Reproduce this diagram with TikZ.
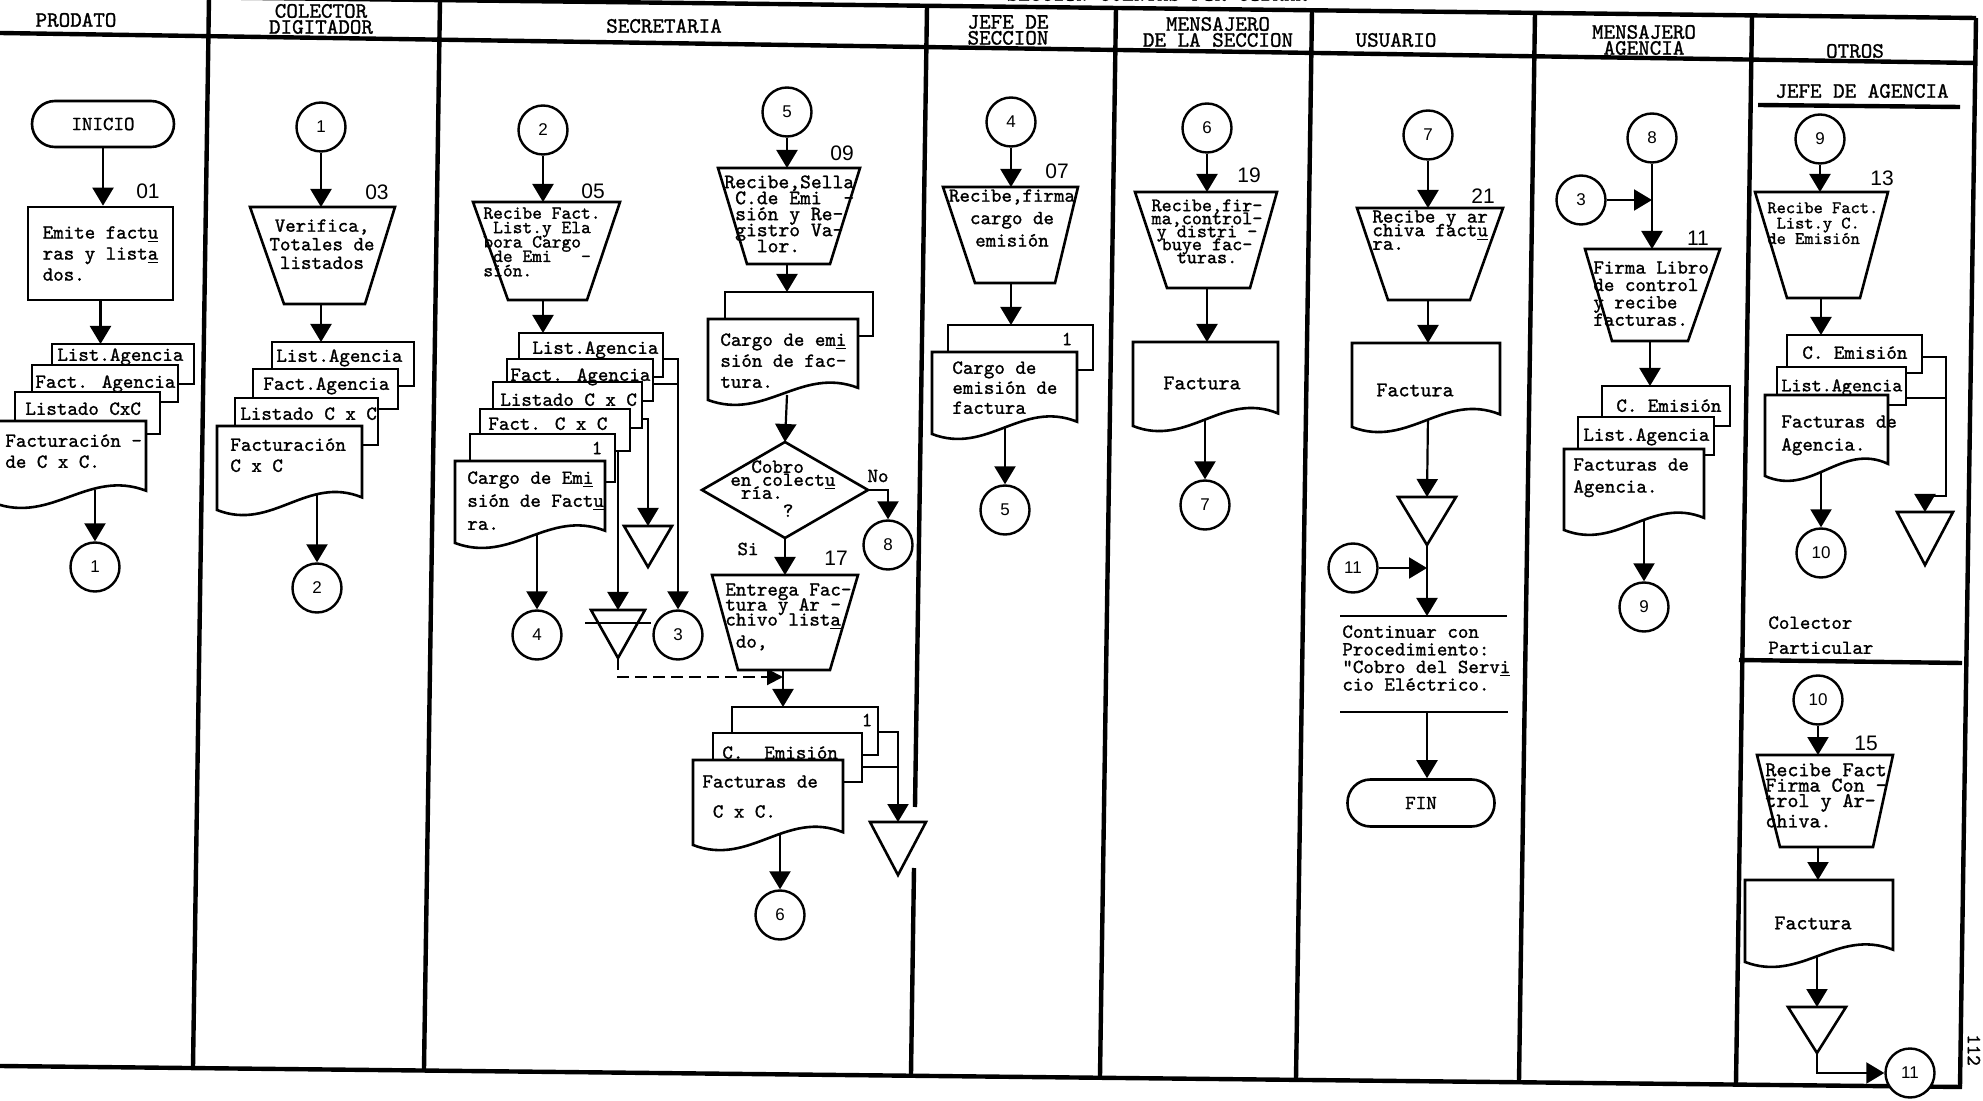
\documentclass[tikz,border=0pt]{standalone}
\usepackage{fontspec}
\newfontfamily\numfont{Liberation Sans}
\newfontfamily\twf{lmmono10-regular.otf}[FakeBold=1.2]
\usetikzlibrary{arrows.meta,backgrounds}

% typewriter text with a free line pitch
\newcommand\tf[2]{\twf\fontsize{#1}{#2}\selectfont\lineskiplimit=-50pt\lineskip=0pt\relax}
% back sheet of a document stack
\newcommand\sheetbox[4]{\path[shp,fill=white] (#1,#2) rectangle (#3,#4);}
% document with a wavy lower edge: x0, y0, x1, y of the lower left corner
\newcommand\docwave[4]{\path[shp,fill=white] (#1,#2) -- (#3,#2) -- (#3,{#4-0.15*(#4-(#2))})
  .. controls ({#1+0.62*(#3-(#1))},{#4-0.42*(#4-(#2))}) and ({#1+0.38*(#3-(#1))},{#4+0.26*(#4-(#2))}) .. (#1,#4) -- cycle;}
% manual operation: top y, top x0, top x1, bottom y, bottom x0, bottom x1
\newcommand\manop[6]{\path[shp,fill=white] (#2,#1) -- (#3,#1) -- (#6,#4) -- (#5,#4) -- cycle;}
% file symbol: top y, x0, x1, apex y
\newcommand\filetri[4]{\path[shp,fill=white] (#2,#1) -- (#3,#1) -- ({(#2+#3)/2},#4) -- cycle;}

\begin{document}
\begin{tikzpicture}[x=0.5pt,y=-0.5pt,
  shp/.style={draw=black,line width=1.3pt},
  lnk/.style={draw=black,line width=1.1pt},
  arr/.style={lnk,-{Triangle[width=10.5pt,length=9pt]}},
  lane/.style={draw=black,line width=2.2pt},
  conn/.style={circle,draw=black,line width=1.2pt,fill=white,minimum size=24.5pt,inner sep=0pt,font=\numfont\fontsize{8.5}{10}\selectfont},
  term/.style={draw=black,line width=1.3pt,fill=white,rounded corners=11.5pt,inner sep=0pt,font=\tf{10}{12}},
  stepno/.style={inner sep=0pt,font=\numfont\fontsize{10.5}{12}\selectfont},
  hd/.style={inner sep=0pt,align=center,font=\tf{11}{8}},
  tx/.style={inner sep=0pt,align=left,anchor=north west},
  txc/.style={inner sep=0pt,align=center,anchor=north},
  lbl/.style={inner sep=0pt,font=\tf{10}{12}},
]
\useasboundingbox (0,0) rectangle (1983,1101);

% ---------------- header
\node[hd] (hsec) at (1157,-6) {SECCION CUENTAS POR COBRAR};
\node[hd] (h1) at (76,20) {PRODATO};
\node[hd] (h2) at (321,19) {COLECTOR\\DIGITADOR};
\node[hd] (h3) at (664,26) {SECRETARIA};
\node[hd] (h4) at (1008,30) {JEFE DE\\SECCION};
\node[hd] (h5) at (1218,32) {MENSAJERO\\DE LA SECCION};
\node[hd] (h6) at (1396,40) {USUARIO};
\node[hd] (h7) at (1644,42) {MENSAJERO\\\underline{AGENCIA}};
\node[hd] (h8) at (1855,51) {OTROS};

% ---------------- PRODATO
\node[term,minimum width=71pt,minimum height=23pt] (inicio) at (103,124) {INICIO};
\node[stepno] (n01) at (148,191) {01};
\node[shp,fill=white,minimum width=72.5pt,minimum height=46.5pt,inner sep=0pt,align=left,font=\tf{10}{10.5}] (p01) at (100.5,253.5) {Emite fact\underline{u}\\ras y list\underline{a}\\dos.};
\sheetbox{52}{344}{194}{384}
\sheetbox{32}{365}{178}{402}
\sheetbox{15}{392}{160}{434}
\docwave{-6}{421}{146}{503}
\node[tx,font=\tf{10}{10}] (d01a) at (57,348) {List.Agencia};
\node[tx,font=\tf{10}{10}] (d01b) at (35,375) {Fact. Agencia};
\node[tx,font=\tf{10}{10}] (d01c) at (25,402) {Listado CxC};
\node[tx,font=\tf{10}{10.5}] (d01d) at (5,434) {Facturación -\\de C x C.};
\coordinate (s01t) at (100,344);
\coordinate (s01b) at (95,490);
\node[conn] (c1a) at (95,567) {1};

% ---------------- COLECTOR DIGITADOR
\node[conn] (c1b) at (321,127) {1};
\node[stepno] (n03) at (377,192) {03};
\manop{207}{250}{395}{304}{284}{365}
\coordinate (t03n) at (321,207);
\coordinate (t03s) at (321,304);
\node[txc,font=\tf{10}{9.3}] (t03) at (322,219) {Verifica,\\Totales de\\listados};
\sheetbox{272}{342}{414}{386}
\sheetbox{253}{369}{398}{409}
\sheetbox{235}{398}{378}{445}
\docwave{217}{426}{362}{510}
\node[tx,font=\tf{10}{10}] (d03a) at (276,349) {List.Agencia};
\node[tx,font=\tf{10}{10}] (d03b) at (263,377) {Fact.Agencia};
\node[tx,font=\tf{10}{10}] (d03c) at (240,407) {Listado C x C};
\node[tx,font=\tf{10}{10.5}] (d03d) at (230,438) {Facturación\\C x C};
\coordinate (s03t) at (321,342);
\coordinate (s03b) at (317,495);
\node[conn] (c2a) at (317,588) {2};

% ---------------- SECRETARIA, left branch
\node[conn] (c2b) at (543,130) {2};
\node[stepno] (n05) at (593,191) {05};
\manop{202}{473}{620}{300}{508}{587}
\coordinate (t05n) at (543,202);
\coordinate (t05s) at (543,300);
\node[tx,font=\tf{9.3}{7.2}] (t05) at (483,207) {Recibe Fact.\\~List.y Ela\\bora Cargo\\~de Emi~~~-\\sión.};
\sheetbox{519}{333}{663}{377}
\sheetbox{507}{359}{653}{401}
\sheetbox{493}{382}{642}{428}
\sheetbox{480}{409}{630}{451}
\sheetbox{470}{434}{615}{482}
\docwave{455}{461}{605}{543}
\node[tx,font=\tf{10}{10}] (d05a) at (532,341) {List.Agencia};
\node[tx,font=\tf{10}{10}] (d05b) at (510,368) {Fact. Agencia};
\node[tx,font=\tf{10}{10}] (d05c) at (500,393) {Listado C x C};
\node[tx,font=\tf{10}{10}] (d05d) at (488,417) {Fact. C x C};
\node[lbl] (d05e) at (597,448) {1};
\node[tx,font=\tf{10}{11.5}] (d05f) at (467,471) {Cargo de Em\underline{i}\\sión de Fact\underline{u}\\ra.};
\coordinate (s05t) at (543,333);
\coordinate (s05b) at (537,530);
\coordinate (q1) at (663,359);
\coordinate (q2) at (653,384);
\coordinate (q3) at (642,419);
\coordinate (q4) at (618,451);
\node[conn] (c4a) at (537,635) {4};
\node[conn] (c3a) at (678,635) {3};
\filetri{526}{624}{672}{567}
\coordinate (tl) at (648,526);
\filetri{610}{591}{645}{658}
\draw[shp] (585,623) -- (651,623);
\coordinate (tb1) at (618,610);
\coordinate (tb1a) at (618,658);

% ---------------- SECRETARIA, right branch
\node[conn] (c5a) at (787,112) {5};
\node[stepno] (n09) at (842,153) {09};
\manop{168}{718}{860}{264}{747}{830}
\coordinate (t09n) at (787,168);
\coordinate (t09s) at (787,264);
\node[tx,font=\tf{10.3}{8}] (t09) at (724,175) {Recibe,Sella\\~C.de Emi~~-\\~sión y Re-\\~gistro Va-\\~~~lor.};
\sheetbox{725}{292}{873}{336}
\docwave{708}{319}{858}{400}
\node[tx,font=\tf{10}{10.5}] (d09) at (720,333) {Cargo de em\underline{i}\\sión de fac-\\tura.};
\coordinate (s09t) at (787,292);
\coordinate (s09b) at (787,395);
\path[shp,fill=white] (702,490) -- (785,442) -- (868,490) -- (785,538) -- cycle;
\coordinate (dn) at (785,442);
\coordinate (ds) at (785,538);
\coordinate (de) at (868,490);
\node[tx,font=\tf{10}{6.5}] (q09) at (730,460) {~~Cobro\\en colect\underline{u}\\~ría.\\[2.5pt]~~~~~?};
\node[lbl] (lno) at (878,476) {No};
\node[lbl] (lsi) at (748,549) {Si};
\node[conn] (c8a) at (888,545) {8};
\node[stepno] (n17) at (836,558) {17};
\manop{575}{712}{858}{670}{738}{830}
\coordinate (t17n) at (785,575);
\coordinate (t17s) at (783,670);
\coordinate (j17) at (783,677);
\node[tx,font=\tf{10}{7.5}] (t17) at (725,583) {Entrega Fac-\\tura y Ar -\\chivo list\underline{a}\\[3.5pt]~do,};
\sheetbox{732}{707}{878}{755}
\sheetbox{713}{733}{862}{782}
\docwave{693}{760}{843}{845}
\node[lbl] (d17a) at (867,720) {1};
\node[tx,font=\tf{10}{10}] (d17b) at (722,746) {C.~~Emisión};
\node[tx,font=\tf{10}{15}] (d17c) at (702,775) {Facturas de\\~C x C.};
\coordinate (s17t) at (783,707);
\coordinate (s17b) at (780,835);
\coordinate (q5) at (878,732);
\coordinate (q6) at (862,767);
\filetri{822}{870}{926}{875}
\coordinate (tr2) at (898,822);
\node[conn] (c6a) at (780,915) {6};

% ---------------- JEFE DE SECCION
\node[conn] (c4b) at (1011,122) {4};
\node[stepno] (n07) at (1057,171) {07};
\manop{187}{943}{1078}{283}{975}{1055}
\coordinate (t07n) at (1011,187);
\coordinate (t07s) at (1011,283);
\node[txc,font=\tf{10}{11.2}] (t07) at (1012,189) {Recibe,firma\\cargo de\\emisión};
\sheetbox{948}{325}{1093}{370}
\docwave{932}{352}{1077}{434}
\node[lbl] (d07a) at (1067,339) {1};
\node[tx,font=\tf{10}{10}] (d07b) at (952,361) {Cargo de\\emisión de\\factura};
\coordinate (s07t) at (1011,325);
\coordinate (s07b) at (1005,420);
\node[conn] (c5b) at (1005,510) {5};

% ---------------- MENSAJERO DE LA SECCION
\node[conn] (c6b) at (1207,128) {6};
\node[stepno] (n19) at (1249,175) {19};
\manop{192}{1135}{1277}{288}{1167}{1250}
\coordinate (t19n) at (1207,192);
\coordinate (t19s) at (1207,288);
\node[txc,font=\tf{9.6}{6.5}] (t19) at (1207,199) {Recibe,fir-\\ma,control-\\y distri -\\buye fac-\\turas.};
\docwave{1133}{342}{1278}{426}
\node[lbl,font=\tf{10.5}{12}] (d19) at (1202,383) {Factura};
\coordinate (s19t) at (1207,342);
\coordinate (s19b) at (1205,415);
\node[conn] (c7a) at (1205,505) {7};

% ---------------- USUARIO
\node[conn] (c7b) at (1428,135) {7};
\node[stepno] (n21) at (1483,196) {21};
\manop{208}{1357}{1503}{300}{1388}{1470}
\coordinate (t21n) at (1428,208);
\coordinate (t21s) at (1428,300);
\node[tx,font=\tf{10}{6.8}] (t21) at (1372,210) {Recibe y ar\\chiva fact\underline{u}\\ra.};
\docwave{1352}{343}{1500}{427}
\node[lbl,font=\tf{10.5}{12}] (d21) at (1415,390) {Factura};
\coordinate (s21t) at (1428,343);
\coordinate (s21b) at (1428,415);
\filetri{497}{1398}{1456}{545}
\coordinate (tu) at (1427,497);
\coordinate (tua) at (1427,545);
\node[conn] (c11a) at (1353,568) {11};
\coordinate (ju) at (1427,568);
\draw[shp] (1340,616) -- (1507,616);
\draw[shp] (1340,712) -- (1508,712);
\coordinate (an) at (1427,616);
\coordinate (ab) at (1427,712);
\node[tx,font=\tf{10}{8.8}] (ann) at (1342,625) {Continuar con\\Procedimiento:\\"Cobro del Serv\underline{i}\\cio Eléctrico.};
\node[term,minimum width=73.5pt,minimum height=23.5pt] (fin) at (1421,803) {FIN};

% ---------------- MENSAJERO AGENCIA
\node[conn] (c8b) at (1652,138) {8};
\node[conn] (c3b) at (1581,200) {3};
\coordinate (jm) at (1652,200);
\node[stepno] (n11) at (1698,238) {11};
\manop{249}{1585}{1720}{341}{1612}{1688}
\coordinate (t11n) at (1652,249);
\coordinate (t11s) at (1650,341);
\node[tx,font=\tf{10}{8.7}] (t11) at (1593,261) {Firma Libro\\de control\\y recibe\\facturas.};
\sheetbox{1602}{386}{1730}{426}
\sheetbox{1578}{417}{1714}{455}
\docwave{1564}{449}{1704}{530}
\node[tx,font=\tf{10}{10}] (d11a) at (1616,399) {C. Emisión};
\node[tx,font=\tf{10}{10}] (d11b) at (1583,428) {List.Agencia};
\node[tx,font=\tf{10}{11}] (d11c) at (1573,458) {Facturas de\\Agencia.};
\coordinate (s11t) at (1650,386);
\coordinate (s11b) at (1644,520);
\node[conn] (c9a) at (1644,607) {9};

% ---------------- OTROS: jefe de agencia
\node[hd] (h9) at (1862,91) {JEFE DE AGENCIA};
\draw[lane] (1758,105) -- (1960,107);
\node[conn] (c9b) at (1820,139) {9};
\node[stepno] (n13) at (1882,178) {13};
\manop{192}{1755}{1888}{298}{1787}{1860}
\coordinate (t13n) at (1820,192);
\coordinate (t13s) at (1821,298);
\node[tx,font=\tf{8.8}{7.7}] (t13) at (1767,202) {Recibe Fact.\\~List.y C.\\de Emisión};
\sheetbox{1787}{335}{1922}{373}
\sheetbox{1777}{367}{1906}{405}
\docwave{1765}{395}{1888}{476}
\node[tx,font=\tf{10}{10}] (d13a) at (1802,346) {C. Emisión};
\node[tx,font=\tf{9.6}{10}] (d13b) at (1781,379) {List.Agencia};
\node[tx,font=\tf{10}{11.5}] (d13c) at (1781,415) {Facturas de\\Agencia.};
\coordinate (s13t) at (1821,335);
\coordinate (s13b) at (1821,470);
\coordinate (q7) at (1922,357);
\coordinate (q8) at (1906,398);
\coordinate (bo1) at (1946,496);
\filetri{512}{1897}{1953}{565}
\coordinate (to4) at (1925,512);
\node[conn] (c10a) at (1821,553) {10};

% ---------------- OTROS: colector particular
\node[tx,font=\tf{10}{12.5}] (cp) at (1768,616) {Colector\\Particular};
\draw[lane] (1739,660) -- (1962,663);
\node[conn] (c10b) at (1818,700) {10};
\node[stepno] (n15) at (1866,743) {15};
\manop{755}{1757}{1893}{847}{1780}{1873}
\coordinate (t15n) at (1818,755);
\coordinate (t15s) at (1818,847);
\node[tx,font=\tf{10.5}{7.7}] (t15) at (1765,763) {Recibe Fact\\Firma Con -\\trol y Ar-\\[2.5pt]chiva.};
\docwave{1745}{880}{1893}{962}
\node[lbl,font=\tf{10.5}{12}] (d15) at (1813,923) {Factura};
\coordinate (s15t) at (1818,880);
\coordinate (s15b) at (1817,955);
\filetri{1007}{1788}{1846}{1053}
\coordinate (tp) at (1817,1007);
\coordinate (tpa) at (1817,1053);
\node[conn] (c11b) at (1910,1073) {11};
\node[lbl,rotate=-90] (pg) at (1974,1050) {112};

% ---------------- frame and connectors
\begin{scope}[on background layer]
  \draw[lane] (0,-5) -- (1976,18);
  \draw[lane] (0,33) -- (1976,63);
  \draw[lane] (0,1066) -- (1962,1087);
  \draw[lane] (209,-3) -- (193,1067);
  \draw[lane] (440,0) -- (424,1069);
  \draw[lane] (927,6) -- (915,807);
  \draw[lane] (914,868) -- (911,1074);
  \draw[lane] (1116,8) -- (1100,1076);
  \draw[lane] (1312,10) -- (1296,1079);
  \draw[lane] (1535,13) -- (1519,1081);
  \draw[lane] (1752,15) -- (1736,1083);
  \draw[lane] (1976,18) -- (1960,1086);

  \draw[arr] (inicio) -- (inicio |- p01.north);
  \draw[arr] (p01) -- (p01 |- s01t);
  \draw[arr] (s01b) -- (c1a);

  \draw[arr] (c1b) -- (t03n);
  \draw[arr] (t03s) -- (s03t);
  \draw[arr] (s03b) -- (c2a);

  \draw[arr] (c2b) -- (t05n);
  \draw[arr] (t05s) -- (s05t);
  \draw[arr] (s05b) -- (c4a);
  \draw[arr] (q1) -| (c3a);
  \draw[lnk] (q2) -- (q2 -| c3a);
  \draw[arr] (q3) -| (tl);
  \draw[arr] (q4) -- (tb1);
  \draw[lnk,dash pattern=on 6pt off 3pt,-{Triangle[width=8pt,length=8pt]}] (tb1a) |- (j17);

  \draw[arr] (c5a) -- (t09n);
  \draw[arr] (t09s) -- (s09t);
  \draw[arr] (s09b) -- (dn);
  \draw[arr] (de) -| (c8a);
  \draw[arr] (ds) -- (t17n);
  \draw[arr] (t17s) -- (s17t);
  \draw[arr] (s17b) -- (c6a);
  \draw[arr] (q5) -| (tr2);
  \draw[lnk] (q6) -- (q6 -| tr2);

  \draw[arr] (c4b) -- (t07n);
  \draw[arr] (t07s) -- (s07t);
  \draw[arr] (s07b) -- (c5b);

  \draw[arr] (c6b) -- (t19n);
  \draw[arr] (t19s) -- (s19t);
  \draw[arr] (s19b) -- (c7a);

  \draw[arr] (c7b) -- (t21n);
  \draw[arr] (t21s) -- (s21t);
  \draw[arr] (s21b) -- (tu);
  \draw[arr] (tua) -- (an);
  \draw[arr] (c11a) -- (ju);
  \draw[arr] (ab) -- (ab |- fin.north);

  \draw[arr] (c8b) -- (t11n);
  \draw[arr] (c3b) -- (jm);
  \draw[arr] (t11s) -- (s11t);
  \draw[arr] (s11b) -- (c9a);

  \draw[arr] (c9b) -- (t13n);
  \draw[arr] (t13s) -- (s13t);
  \draw[arr] (s13b) -- (c10a);
  \draw[arr] (q7) -| (bo1) -| (to4);
  \draw[lnk] (q8) -- (q8 -| bo1);

  \draw[arr] (c10b) -- (t15n);
  \draw[arr] (t15s) -- (s15t);
  \draw[arr] (s15b) -- (tp);
  \draw[arr] (tpa) |- (c11b);
\end{scope}
\end{tikzpicture}
\end{document}
